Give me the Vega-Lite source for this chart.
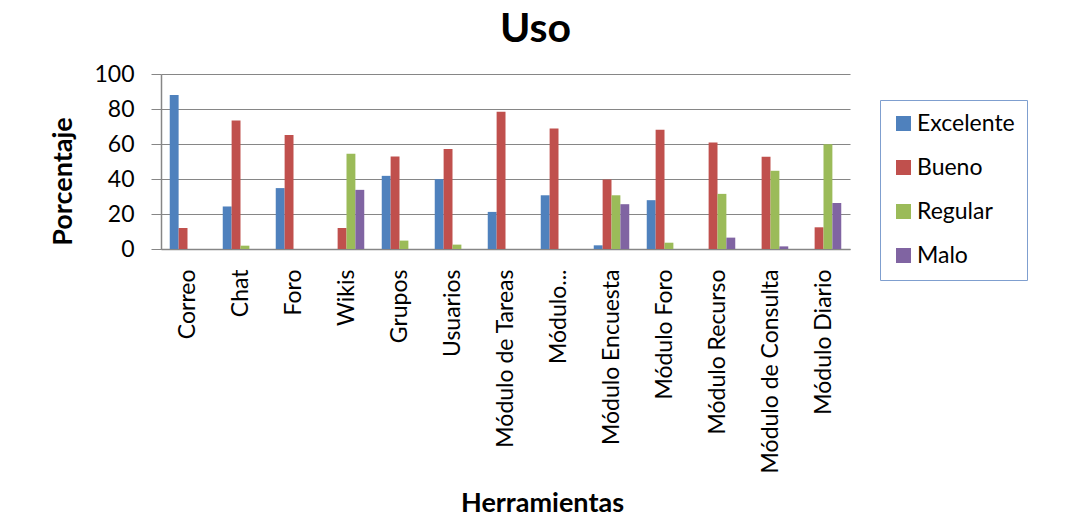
{
  "$schema": "https://vega.github.io/schema/vega-lite/v6.json",
  "width": 689,
  "height": 175,
  "autosize": {"type": "none"},
  "padding": {"left": 161, "top": 74, "right": 216, "bottom": 280},
  "background": "white",
  "config": {
    "font": "Lato",
    "view": {"stroke": null},
    "axis": {"labelFont": "Lato", "titleFont": "Lato", "labelColor": "black", "titleColor": "black"}
  },
  "title": {"text": "Uso", "fontSize": 41, "font": "Lato", "fontWeight": "bold", "color": "black", "anchor": "middle", "dx": 30, "offset": 12},
  "data": {"values": [
    {"h": "Correo", "c": "Excelente", "v": 88}, {"h": "Correo", "c": "Bueno", "v": 12}, {"h": "Correo", "c": "Regular", "v": 0}, {"h": "Correo", "c": "Malo", "v": 0},
    {"h": "Chat", "c": "Excelente", "v": 24.3}, {"h": "Chat", "c": "Bueno", "v": 73.4}, {"h": "Chat", "c": "Regular", "v": 1.9}, {"h": "Chat", "c": "Malo", "v": 0},
    {"h": "Foro", "c": "Excelente", "v": 34.8}, {"h": "Foro", "c": "Bueno", "v": 65.2}, {"h": "Foro", "c": "Regular", "v": 0}, {"h": "Foro", "c": "Malo", "v": 0},
    {"h": "Wikis", "c": "Excelente", "v": 0}, {"h": "Wikis", "c": "Bueno", "v": 12}, {"h": "Wikis", "c": "Regular", "v": 54.4}, {"h": "Wikis", "c": "Malo", "v": 33.8},
    {"h": "Grupos", "c": "Excelente", "v": 41.8}, {"h": "Grupos", "c": "Bueno", "v": 52.9}, {"h": "Grupos", "c": "Regular", "v": 4.8}, {"h": "Grupos", "c": "Malo", "v": 0},
    {"h": "Usuarios", "c": "Excelente", "v": 39.9}, {"h": "Usuarios", "c": "Bueno", "v": 57.2}, {"h": "Usuarios", "c": "Regular", "v": 2.5}, {"h": "Usuarios", "c": "Malo", "v": 0},
    {"h": "Módulo de Tareas", "c": "Excelente", "v": 21.2}, {"h": "Módulo de Tareas", "c": "Bueno", "v": 78.4}, {"h": "Módulo de Tareas", "c": "Regular", "v": 0}, {"h": "Módulo de Tareas", "c": "Malo", "v": 0},
    {"h": "Módulo...", "c": "Excelente", "v": 30.7}, {"h": "Módulo...", "c": "Bueno", "v": 68.9}, {"h": "Módulo...", "c": "Regular", "v": 0}, {"h": "Módulo...", "c": "Malo", "v": 0},
    {"h": "Módulo Encuesta", "c": "Excelente", "v": 2.1}, {"h": "Módulo Encuesta", "c": "Bueno", "v": 39.7}, {"h": "Módulo Encuesta", "c": "Regular", "v": 30.7}, {"h": "Módulo Encuesta", "c": "Malo", "v": 25.6},
    {"h": "Módulo Foro", "c": "Excelente", "v": 27.9}, {"h": "Módulo Foro", "c": "Bueno", "v": 68.1}, {"h": "Módulo Foro", "c": "Regular", "v": 3.6}, {"h": "Módulo Foro", "c": "Malo", "v": 0},
    {"h": "Módulo Recurso", "c": "Excelente", "v": 0}, {"h": "Módulo Recurso", "c": "Bueno", "v": 60.9}, {"h": "Módulo Recurso", "c": "Regular", "v": 31.5}, {"h": "Módulo Recurso", "c": "Malo", "v": 6.5},
    {"h": "Módulo de Consulta", "c": "Excelente", "v": 0}, {"h": "Módulo de Consulta", "c": "Bueno", "v": 52.7}, {"h": "Módulo de Consulta", "c": "Regular", "v": 44.7}, {"h": "Módulo de Consulta", "c": "Malo", "v": 1.5},
    {"h": "Módulo Diario", "c": "Excelente", "v": 0}, {"h": "Módulo Diario", "c": "Bueno", "v": 12.4}, {"h": "Módulo Diario", "c": "Regular", "v": 59.9}, {"h": "Módulo Diario", "c": "Malo", "v": 26.3}
  ]},
  "mark": {"type": "bar"},
  "encoding": {
    "x": {
      "field": "h", "type": "nominal", "sort": null,
      "scale": {"paddingInner": 0.33, "paddingOuter": 0.165},
      "axis": {
        "title": "Herramientas", "titleFontSize": 27, "titleFontWeight": "bold",
        "titleX": 381, "titleY": 254, "titleBaseline": "middle", "titleAnchor": "middle",
        "labelAngle": -90, "labelFontSize": 23, "labelPadding": 20, "ticks": false, "tickSize": 0,
        "domainColor": "#868686", "domainWidth": 1.5, "labelLimit": 300
      }
    },
    "xOffset": {"field": "c", "type": "nominal", "sort": ["Excelente", "Bueno", "Regular", "Malo"]},
    "y": {
      "field": "v", "type": "quantitative",
      "scale": {"domain": [0, 100], "nice": false},
      "axis": {
        "title": "Porcentaje", "titleFontSize": 27, "titleFontWeight": "bold",
        "titleX": -84, "titleY": 107, "titleBaseline": "bottom", "titleAngle": -90,
        "values": [0, 20, 40, 60, 80, 100], "labelFontSize": 23, "labelPadding": 17,
        "tickSize": 10, "tickColor": "#868686", "domainColor": "#868686", "domainWidth": 1.5,
        "grid": true, "gridColor": "#868686", "gridWidth": 1.2
      }
    },
    "color": {
      "field": "c", "type": "nominal",
      "sort": ["Excelente", "Bueno", "Regular", "Malo"],
      "scale": {"domain": ["Excelente", "Bueno", "Regular", "Malo"], "range": ["#4F81BD", "#C0504D", "#9BBB59", "#8064A2"]},
      "legend": {
        "title": null, "orient": "none", "legendX": 719, "legendY": 26,
        "strokeColor": "#7F9FCF", "padding": 12, "symbolType": "square", "symbolSize": 225,
        "symbolStrokeWidth": 0, "labelFontSize": 23, "labelColor": "black", "rowPadding": 20,
        "labelOffset": 2
      }
    }
  }
}
